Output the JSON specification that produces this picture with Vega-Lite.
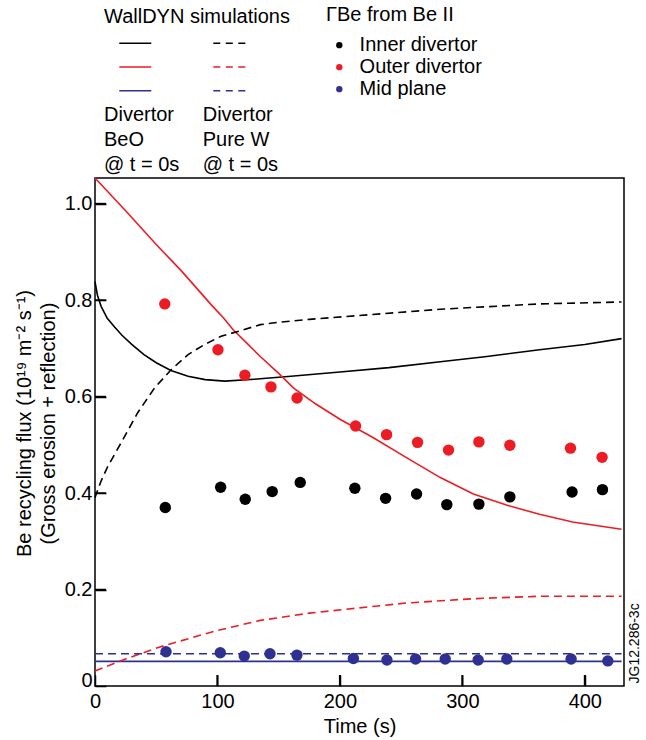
{
  "$schema": "https://vega.github.io/schema/vega-lite/v6.json",
  "width": 529,
  "height": 508,
  "autosize": {"type": "none"},
  "padding": {"left": 95, "top": 178, "right": 22, "bottom": 54},
  "title": {"text": "WallDYN simulations", "anchor": "start", "frame": "group", "dx": 9, "offset": -38.2, "baseline": "alphabetic", "fontSize": 20, "fontWeight": "normal", "color": "#000000"},
  "config": {
    "font": "Liberation Sans",
    "view": {"stroke": "#000000", "strokeWidth": 1.5},
    "axis": {"domainColor": "#000000", "domainWidth": 1.5, "labelColor": "#000000", "titleColor": "#000000", "labelFontSize": 20, "titleFontSize": 20, "titleFontWeight": "normal", "grid": false},
    "legend": {"padding": 0, "labelFontSize": 20, "titleFontSize": 20, "titleFontWeight": "normal", "labelColor": "#000000", "titleColor": "#000000"}
  },
  "datasets": {
    "sim": [
      {"model": "BeO", "region": "Inner divertor", "t": 0, "flux": 0.838},
      {"model": "BeO", "region": "Inner divertor", "t": 2, "flux": 0.81},
      {"model": "BeO", "region": "Inner divertor", "t": 5, "flux": 0.787},
      {"model": "BeO", "region": "Inner divertor", "t": 10, "flux": 0.762},
      {"model": "BeO", "region": "Inner divertor", "t": 16, "flux": 0.744},
      {"model": "BeO", "region": "Inner divertor", "t": 22, "flux": 0.727},
      {"model": "BeO", "region": "Inner divertor", "t": 30, "flux": 0.708},
      {"model": "BeO", "region": "Inner divertor", "t": 40, "flux": 0.687},
      {"model": "BeO", "region": "Inner divertor", "t": 50, "flux": 0.67},
      {"model": "BeO", "region": "Inner divertor", "t": 62, "flux": 0.654},
      {"model": "BeO", "region": "Inner divertor", "t": 76, "flux": 0.642},
      {"model": "BeO", "region": "Inner divertor", "t": 90, "flux": 0.635},
      {"model": "BeO", "region": "Inner divertor", "t": 106, "flux": 0.632},
      {"model": "BeO", "region": "Inner divertor", "t": 130, "flux": 0.636},
      {"model": "BeO", "region": "Inner divertor", "t": 160, "flux": 0.642},
      {"model": "BeO", "region": "Inner divertor", "t": 200, "flux": 0.651},
      {"model": "BeO", "region": "Inner divertor", "t": 240, "flux": 0.66},
      {"model": "BeO", "region": "Inner divertor", "t": 282, "flux": 0.672},
      {"model": "BeO", "region": "Inner divertor", "t": 320, "flux": 0.683},
      {"model": "BeO", "region": "Inner divertor", "t": 363, "flux": 0.697},
      {"model": "BeO", "region": "Inner divertor", "t": 400, "flux": 0.708},
      {"model": "BeO", "region": "Inner divertor", "t": 430, "flux": 0.72},
      {"model": "Pure W", "region": "Inner divertor", "t": 0, "flux": 0.39},
      {"model": "Pure W", "region": "Inner divertor", "t": 2.4, "flux": 0.408},
      {"model": "Pure W", "region": "Inner divertor", "t": 5, "flux": 0.425},
      {"model": "Pure W", "region": "Inner divertor", "t": 10.6, "flux": 0.456},
      {"model": "Pure W", "region": "Inner divertor", "t": 21.5, "flux": 0.505},
      {"model": "Pure W", "region": "Inner divertor", "t": 35, "flux": 0.567},
      {"model": "Pure W", "region": "Inner divertor", "t": 48.7, "flux": 0.618},
      {"model": "Pure W", "region": "Inner divertor", "t": 62.3, "flux": 0.656},
      {"model": "Pure W", "region": "Inner divertor", "t": 76, "flux": 0.687},
      {"model": "Pure W", "region": "Inner divertor", "t": 89.5, "flux": 0.708},
      {"model": "Pure W", "region": "Inner divertor", "t": 103, "flux": 0.725},
      {"model": "Pure W", "region": "Inner divertor", "t": 116.7, "flux": 0.735},
      {"model": "Pure W", "region": "Inner divertor", "t": 135, "flux": 0.749},
      {"model": "Pure W", "region": "Inner divertor", "t": 150, "flux": 0.754},
      {"model": "Pure W", "region": "Inner divertor", "t": 175, "flux": 0.76},
      {"model": "Pure W", "region": "Inner divertor", "t": 216, "flux": 0.768},
      {"model": "Pure W", "region": "Inner divertor", "t": 282, "flux": 0.781},
      {"model": "Pure W", "region": "Inner divertor", "t": 363, "flux": 0.792},
      {"model": "Pure W", "region": "Inner divertor", "t": 430, "flux": 0.796},
      {"model": "BeO", "region": "Outer divertor", "t": 0, "flux": 1.053},
      {"model": "BeO", "region": "Outer divertor", "t": 25, "flux": 0.985},
      {"model": "BeO", "region": "Outer divertor", "t": 50, "flux": 0.915},
      {"model": "BeO", "region": "Outer divertor", "t": 70, "flux": 0.862},
      {"model": "BeO", "region": "Outer divertor", "t": 95, "flux": 0.79},
      {"model": "BeO", "region": "Outer divertor", "t": 105, "flux": 0.763},
      {"model": "BeO", "region": "Outer divertor", "t": 113, "flux": 0.738},
      {"model": "BeO", "region": "Outer divertor", "t": 125, "flux": 0.708},
      {"model": "BeO", "region": "Outer divertor", "t": 135, "flux": 0.683},
      {"model": "BeO", "region": "Outer divertor", "t": 150, "flux": 0.648},
      {"model": "BeO", "region": "Outer divertor", "t": 162, "flux": 0.618},
      {"model": "BeO", "region": "Outer divertor", "t": 180, "flux": 0.585},
      {"model": "BeO", "region": "Outer divertor", "t": 200, "flux": 0.553},
      {"model": "BeO", "region": "Outer divertor", "t": 227, "flux": 0.515},
      {"model": "BeO", "region": "Outer divertor", "t": 254, "flux": 0.474},
      {"model": "BeO", "region": "Outer divertor", "t": 282, "flux": 0.432},
      {"model": "BeO", "region": "Outer divertor", "t": 309, "flux": 0.398},
      {"model": "BeO", "region": "Outer divertor", "t": 336, "flux": 0.375},
      {"model": "BeO", "region": "Outer divertor", "t": 363, "flux": 0.356},
      {"model": "BeO", "region": "Outer divertor", "t": 390, "flux": 0.34},
      {"model": "BeO", "region": "Outer divertor", "t": 430, "flux": 0.325},
      {"model": "Pure W", "region": "Outer divertor", "t": 0, "flux": 0.031},
      {"model": "Pure W", "region": "Outer divertor", "t": 25, "flux": 0.056},
      {"model": "Pure W", "region": "Outer divertor", "t": 53, "flux": 0.081},
      {"model": "Pure W", "region": "Outer divertor", "t": 98, "flux": 0.114},
      {"model": "Pure W", "region": "Outer divertor", "t": 135, "flux": 0.136},
      {"model": "Pure W", "region": "Outer divertor", "t": 175, "flux": 0.151},
      {"model": "Pure W", "region": "Outer divertor", "t": 216, "flux": 0.162},
      {"model": "Pure W", "region": "Outer divertor", "t": 254, "flux": 0.172},
      {"model": "Pure W", "region": "Outer divertor", "t": 309, "flux": 0.181},
      {"model": "Pure W", "region": "Outer divertor", "t": 363, "flux": 0.186},
      {"model": "Pure W", "region": "Outer divertor", "t": 430, "flux": 0.186},
      {"model": "BeO", "region": "Mid plane", "t": 0, "flux": 0.051},
      {"model": "BeO", "region": "Mid plane", "t": 430, "flux": 0.051},
      {"model": "Pure W", "region": "Mid plane", "t": 0, "flux": 0.067},
      {"model": "Pure W", "region": "Mid plane", "t": 430, "flux": 0.067}
    ],
    "obs": [
      {"region": "Inner divertor", "t": 57.4, "flux": 0.37},
      {"region": "Inner divertor", "t": 102.6, "flux": 0.412},
      {"region": "Inner divertor", "t": 122.7, "flux": 0.387},
      {"region": "Inner divertor", "t": 144.7, "flux": 0.403},
      {"region": "Inner divertor", "t": 167.6, "flux": 0.422},
      {"region": "Inner divertor", "t": 212.2, "flux": 0.41},
      {"region": "Inner divertor", "t": 237.3, "flux": 0.389},
      {"region": "Inner divertor", "t": 262.6, "flux": 0.398},
      {"region": "Inner divertor", "t": 287.3, "flux": 0.376},
      {"region": "Inner divertor", "t": 313.5, "flux": 0.377},
      {"region": "Inner divertor", "t": 338.8, "flux": 0.392},
      {"region": "Inner divertor", "t": 389.6, "flux": 0.402},
      {"region": "Inner divertor", "t": 414.4, "flux": 0.407},
      {"region": "Outer divertor", "t": 57, "flux": 0.792},
      {"region": "Outer divertor", "t": 100.4, "flux": 0.697},
      {"region": "Outer divertor", "t": 122.4, "flux": 0.644},
      {"region": "Outer divertor", "t": 143.7, "flux": 0.62},
      {"region": "Outer divertor", "t": 165, "flux": 0.597},
      {"region": "Outer divertor", "t": 212.8, "flux": 0.539},
      {"region": "Outer divertor", "t": 238.1, "flux": 0.521},
      {"region": "Outer divertor", "t": 263.4, "flux": 0.505},
      {"region": "Outer divertor", "t": 288.7, "flux": 0.489},
      {"region": "Outer divertor", "t": 313.5, "flux": 0.506},
      {"region": "Outer divertor", "t": 338.8, "flux": 0.499},
      {"region": "Outer divertor", "t": 388.3, "flux": 0.493},
      {"region": "Outer divertor", "t": 414.1, "flux": 0.474},
      {"region": "Mid plane", "t": 58, "flux": 0.071},
      {"region": "Mid plane", "t": 102.3, "flux": 0.069},
      {"region": "Mid plane", "t": 121.9, "flux": 0.062},
      {"region": "Mid plane", "t": 142.9, "flux": 0.067},
      {"region": "Mid plane", "t": 164.9, "flux": 0.064},
      {"region": "Mid plane", "t": 211, "flux": 0.057},
      {"region": "Mid plane", "t": 238.4, "flux": 0.054},
      {"region": "Mid plane", "t": 261.8, "flux": 0.056},
      {"region": "Mid plane", "t": 286, "flux": 0.056},
      {"region": "Mid plane", "t": 312.9, "flux": 0.054},
      {"region": "Mid plane", "t": 336.3, "flux": 0.056},
      {"region": "Mid plane", "t": 388.8, "flux": 0.056},
      {"region": "Mid plane", "t": 418.8, "flux": 0.052}
    ],
    "xticks": [{"t": 100}, {"t": 200}, {"t": 300}, {"t": 400}],
    "yticks": [{"flux": 0.2}, {"flux": 0.4}, {"flux": 0.6}, {"flux": 0.8}, {"flux": 1.0}]
  },
  "layer": [
    {
      "data": {"name": "sim"},
      "transform": [{"filter": "datum.model === 'BeO'"}],
      "mark": {"type": "line", "strokeWidth": 1.6},
      "encoding": {
        "x": {"field": "t", "type": "quantitative", "scale": {"domain": [0, 432], "nice": false, "zero": false},
          "axis": {"title": "Time (s)", "values": [0, 100, 200, 300, 400], "format": "d", "offset": -11, "tickSize": 11, "ticks": true, "tickColor": "black", "tickWidth": 1.5, "zindex": 1, "domain": false, "labelFlush": false, "labelPadding": 5.8, "titleX": 264.5, "titleY": 57.7, "titleBaseline": "alphabetic", "titleAlign": "center"}},
        "y": {"field": "flux", "type": "quantitative", "scale": {"domain": [0, 1.053], "nice": false},
          "axis": {"title": ["Be recycling flux (10¹⁹ m⁻² s⁻¹)", "(Gross erosion + reflection)"], "values": [0, 0.2, 0.4, 0.6, 0.8, 1], "labelExpr": "datum.value == 0 ? '0' : format(datum.value, '.1f')", "offset": -11, "tickSize": 11, "ticks": true, "tickColor": "black", "tickWidth": 1.5, "zindex": 1, "domain": false, "labelPadding": 3, "labelOffset": {"condition": {"test": "datum.value == 0", "value": -6}, "value": 0}, "titleAngle": -90, "titleX": -76, "titleY": 245, "titleAlign": "center", "titleBaseline": "alphabetic", "titleLineHeight": 24}},
        "color": {"field": "region", "type": "nominal",
          "scale": {"domain": ["Inner divertor", "Outer divertor", "Mid plane"], "range": ["#000000", "#ed1c24", "#2e3192"]},
          "legend": {"orient": "none", "legendX": 9, "legendY": -143.7, "title": ["Divertor", "BeO", "@ t = 0s"], "titleOrient": "bottom", "titleAnchor": "start", "titleLineHeight": 25, "titlePadding": 10.5, "titleBaseline": "top", "labelExpr": "' '", "labelFontSize": 4, "symbolType": "M-2,0H2", "symbolSize": 256, "symbolStrokeWidth": 1.6, "symbolOffset": 22.3, "rowPadding": 10.7, "labelOffset": 0}}
      }
    },
    {
      "data": {"name": "sim"},
      "transform": [{"filter": "datum.model === 'Pure W'"}],
      "mark": {"type": "line", "strokeWidth": 1.6, "strokeDash": [8, 5]},
      "encoding": {
        "x": {"field": "t", "type": "quantitative"},
        "y": {"field": "flux", "type": "quantitative", "axis": null},
        "color": {"field": "region", "type": "nominal",
          "scale": {"domain": ["Inner divertor", "Outer divertor", "Mid plane"], "range": ["#000000", "#ed1c24", "#2e3192"]},
          "legend": {"orient": "none", "legendX": 107.7, "legendY": -143.7, "title": ["Divertor", "Pure W", "@ t = 0s"], "titleOrient": "bottom", "titleAnchor": "start", "titleLineHeight": 25, "titlePadding": 10.5, "titleBaseline": "top", "labelExpr": "' '", "labelFontSize": 4, "symbolType": "M-2,0H2", "symbolSize": 256, "symbolStrokeWidth": 1.6, "symbolDash": [7, 5.5], "symbolOffset": 17.6, "rowPadding": 10.7, "labelOffset": 0}}
      }
    },
    {
      "data": {"name": "xticks"},
      "mark": {"type": "tick", "orient": "vertical", "size": 11, "thickness": 2, "color": "#000000", "opacity": 1, "yOffset": -5.5},
      "encoding": {
        "x": {"field": "t", "type": "quantitative"},
        "y": {"datum": 0, "type": "quantitative", "axis": null}
      }
    },
    {
      "data": {"name": "yticks"},
      "mark": {"type": "rule", "strokeWidth": 1.5, "color": "#000000", "opacity": 1},
      "encoding": {
        "x": {"datum": 0, "type": "quantitative"},
        "x2": {"datum": 9},
        "y": {"field": "flux", "type": "quantitative", "axis": null}
      }
    },
    {
      "data": {"name": "obs"},
      "mark": {"type": "circle", "size": 130, "opacity": 1},
      "encoding": {
        "x": {"field": "t", "type": "quantitative"},
        "y": {"field": "flux", "type": "quantitative",
          "axis": {"orient": "right", "title": "JG12.286-3c", "labels": false, "ticks": false, "domain": false, "titleAngle": -90, "titleX": 14, "titleY": 505, "titleAlign": "left", "titleBaseline": "alphabetic", "titleFontSize": 14}},
        "color": {"field": "region", "type": "nominal",
          "scale": {"domain": ["Inner divertor", "Outer divertor", "Mid plane"], "range": ["#000000", "#ed1c24", "#2e3192"]},
          "legend": {"orient": "none", "legendX": 231, "legendY": -172.8, "title": "ΓBe from Be II", "titleBaseline": "top", "titleAnchor": "start", "titlePadding": 10, "symbolType": "circle", "symbolSize": 40, "symbolOpacity": 1, "symbolOffset": 3.3, "labelOffset": 10.3, "rowPadding": 2}}
      }
    }
  ],
  "resolve": {"scale": {"color": "independent"}, "axis": {"y": "independent"}}
}
